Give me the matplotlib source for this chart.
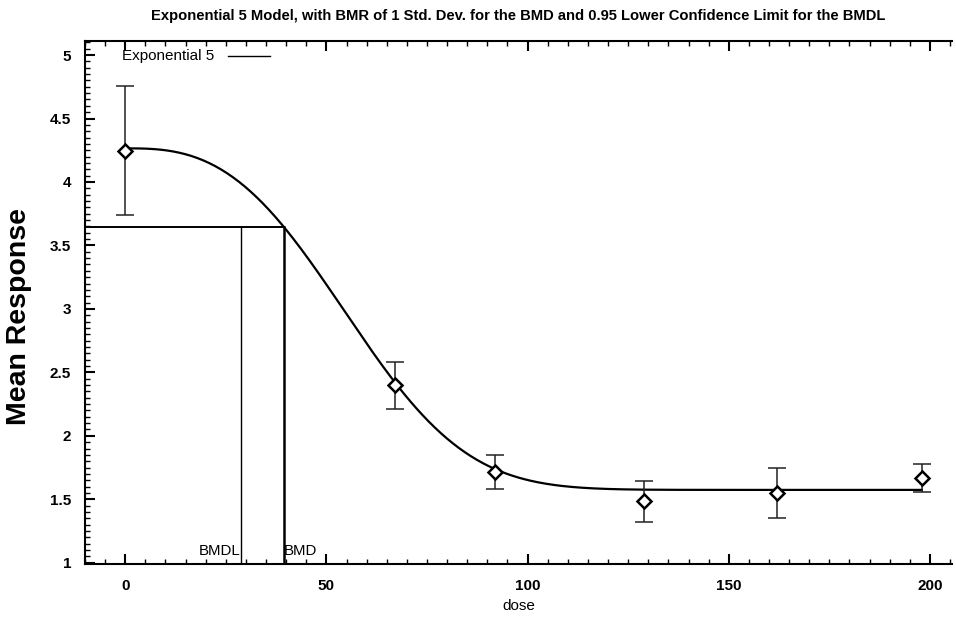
import numpy as np
import matplotlib
matplotlib.use("Agg")
import matplotlib.pyplot as plt
from matplotlib.ticker import MultipleLocator

plt.rcParams['font.family'] = ['Liberation Sans', 'DejaVu Sans']

# Observed data
dose = [0, 67, 92, 129, 162, 198]
mean_resp = [4.245, 2.40, 1.715, 1.49, 1.55, 1.665]
err_low = [3.74, 2.215, 1.58, 1.32, 1.355, 1.56]
err_high = [4.76, 2.58, 1.85, 1.64, 1.75, 1.78]

# Exponential 5 model parameters: y = a*(c-(c-1)*exp(-(b*x)^d))
a_par, b_par, c_par, d_par = 4.265, 0.01571, 0.369, 2.8
bmd, bmdl, bmr_resp = 39.5, 28.7, 3.645
title = "Exponential 5 Model, with BMR of 1 Std. Dev. for the BMD and 0.95 Lower Confidence Limit for the BMDL"

fig = plt.figure(figsize=(9.56, 6.21), dpi=100)
ax = fig.add_axes([0.0889, 0.0918, 0.907, 0.842])
xlim = (-10, 205.5)
ylim = (0.99, 5.11)

xs = np.linspace(0, 198, 400)
ys = a_par * (c_par - (c_par - 1) * np.exp(-(b_par * xs) ** d_par))
ax.plot(xs, ys, color='black', lw=1.6)

yerr = [np.array(mean_resp) - np.array(err_low), np.array(err_high) - np.array(mean_resp)]
ax.errorbar(dose, mean_resp, yerr=yerr, fmt='none', ecolor='#222222', elinewidth=1.1,
            capsize=6.5, capthick=1.1)
ax.plot(dose, mean_resp, linestyle='none', marker='D', markersize=7.5, markerfacecolor='white',
        markeredgecolor='black', markeredgewidth=1.8, zorder=5)

# BMD / BMDL lines
ax.plot([xlim[0], bmd], [bmr_resp, bmr_resp], color='black', lw=1.4)
ax.plot([bmd, bmd], [ylim[0], bmr_resp], color='black', lw=1.8)
ax.plot([bmdl, bmdl], [ylim[0], bmr_resp], color='black', lw=1.0)
ax.text(bmdl, 1.04, "BMDL", ha='right', va='bottom', fontsize=10.8)
ax.text(bmd, 1.04, "BMD", ha='left', va='bottom', fontsize=10.8)

# legend-like label
ax.text(-0.8, 4.995, "Exponential 5", ha='left', va='center', fontsize=11)
ax.plot([25.5, 36], [4.995, 4.995], color='black', lw=1.0)

ax.set_xlim(*xlim)
ax.set_ylim(*ylim)
ax.xaxis.set_major_locator(MultipleLocator(50))
ax.xaxis.set_minor_locator(MultipleLocator(5))
ax.yaxis.set_major_locator(MultipleLocator(0.5))
ax.yaxis.set_minor_locator(MultipleLocator(0.05))
ax.set_yticks([1, 1.5, 2, 2.5, 3, 3.5, 4, 4.5, 5])
ax.set_yticklabels(['1', '1.5', '2', '2.5', '3', '3.5', '4', '4.5', '5'])
ax.spines['right'].set_visible(False)
for s in ['left', 'bottom', 'top']:
    ax.spines[s].set_linewidth(1.5)
ax.tick_params(axis='x', which='both', direction='in', top=True, bottom=True, pad=11)
ax.tick_params(axis='y', which='both', direction='in', left=True, right=False, pad=10)
ax.tick_params(which='major', length=7, width=1.5)
ax.tick_params(which='minor', length=3.5, width=1.0)
for lab in ax.get_xticklabels() + ax.get_yticklabels():
    lab.set_fontweight('bold')
    lab.set_fontsize(11)

ax.set_xlabel("dose", fontsize=11, labelpad=4)
fig.text(0.020, 0.49, "Mean Response", rotation=90, ha='center', va='center',
         fontsize=20.5, fontweight='bold')
fig.text(0.542, 0.975, title, ha='center', va='center', fontsize=10.6, fontweight='bold')

fig.savefig("out.png", dpi=100)
